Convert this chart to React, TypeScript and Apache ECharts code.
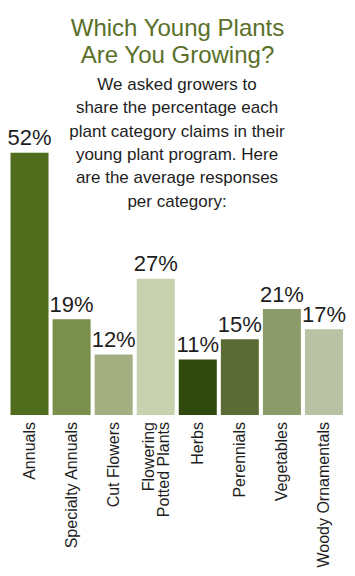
import React, { useEffect, useRef } from "react";
import * as echarts from "echarts";

const categories = [
  "Annuals",
  "Specialty Annuals",
  "Cut Flowers",
  "Flowering\nPotted Plants",
  "Herbs",
  "Perennials",
  "Vegetables",
  "Woody Ornamentals",
];
const values = [52, 19, 12, 27, 11, 15, 21, 17];
const barColors = [
  "#4f6d1d",
  "#7a8f4b",
  "#a3af81",
  "#c9d2ae",
  "#2f4a0c",
  "#5b6b36",
  "#8b9b69",
  "#b9c3a3",
];
const titleLines = ["Which Young Plants", "Are You Growing?"];
const subtitleLines = [
  "We asked growers to",
  "share the percentage each",
  "plant category claims in their",
  "young plant program. Here",
  "are the average responses",
  "per category:",
];

const FONT = "'Liberation Sans', Arial, sans-serif";

export default function App() {
  const ref = useRef<HTMLDivElement>(null);
  useEffect(() => {
    if (!ref.current) return;
    const chart = echarts.init(ref.current, undefined, { renderer: "svg" });
    chart.setOption({
      animation: false,
      backgroundColor: "#ffffff",
      textStyle: { fontFamily: FONT },
      graphic: [
        {
          type: "text",
          left: "center",
          top: 14,
          style: {
            text: titleLines.join("\n"),
            fill: "#5a7029",
            font: `24px ${FONT}`,
            lineHeight: 27,
            textAlign: "center",
          },
          x: 177,
        },
        {
          type: "text",
          top: 73,
          x: 177,
          style: {
            text: subtitleLines.join("\n"),
            fill: "#1e1e1e",
            font: `17px ${FONT}`,
            lineHeight: 23.3,
            textAlign: "center",
          },
        },
      ],
      grid: { left: 8.5, right: 10, top: 152.7, bottom: 161, containLabel: false },
      xAxis: {
        type: "category",
        data: categories,
        axisLine: { show: false },
        axisTick: { show: false },
        axisLabel: {
          interval: 0,
          rotate: 90,
          margin: 7,
          fontSize: 16,
          lineHeight: 15,
          color: "#1e1e1e",
          fontFamily: FONT,
        },
      },
      yAxis: {
        type: "value",
        min: 0,
        max: 52,
        show: false,
        splitLine: { show: false },
      },
      series: [
        {
          type: "bar",
          barWidth: 38,
          data: values.map((v, i) => ({ value: v, itemStyle: { color: barColors[i] } })),
          label: {
            show: true,
            position: "top",
            distance: 4,
            formatter: "{c}%",
            fontSize: 22,
            color: "#1e1e1e",
            fontFamily: FONT,
          },
        },
      ],
    });
    return () => chart.dispose();
  }, []);
  return (
    <div
      ref={ref}
      style={{ position: "fixed", left: 0, top: 0, width: 355, height: 576 }}
    />
  );
}
